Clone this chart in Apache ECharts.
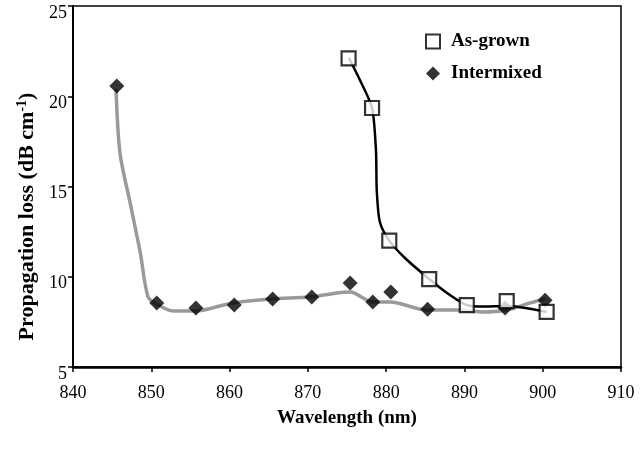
<!DOCTYPE html>
<html><head><meta charset="utf-8">
<script src="https://cdn.jsdelivr.net/npm/echarts@6/dist/echarts.min.js"></script>
<style>html,body{margin:0;padding:0;background:#fff}#c{width:642px;height:451px}</style>
</head><body><div id="c"></div>
<script>
// As-grown measured points
const asGrownX = [875.2, 878.2, 880.4, 885.5, 890.3, 895.4, 900.5];
const asGrownY = [22.1, 19.35, 12.0, 9.87, 8.43, 8.65, 8.05];
// As-grown drawn curve
const agFitX = [875.25, 876.65, 878.2, 878.7, 878.8, 879.2, 880.4, 882.4, 885.5, 888.1, 890.3, 892.5, 895.4, 900.5];
const agFitY = [22.12, 20.9, 19.35, 17.0, 14.8, 13.03, 12.0, 11.04, 9.88, 9.0, 8.43, 8.35, 8.38, 8.05];
// Intermixed measured points
const interX = [845.6, 850.7, 855.7, 860.6, 865.5, 870.5, 875.4, 878.3, 880.6, 885.3, 895.2, 900.3];
const interY = [20.57, 8.55, 8.27, 8.43, 8.77, 8.88, 9.65, 8.6, 9.15, 8.2, 8.27, 8.7];
// Intermixed fitted curve
const fitX = [845.5, 846.0, 847.3, 848.6, 849.6, 850.9, 852.8, 855.6, 860.4, 865.4, 870.3, 873.7, 875.4, 878.3, 880.5, 885.2, 889.4, 892.4, 895.4, 898.4, 900.3];
const fitY = [20.4, 16.86, 14.09, 11.32, 8.88, 8.43, 8.1, 8.1, 8.55, 8.77, 8.88, 9.1, 9.16, 8.6, 8.6, 8.16, 8.16, 8.05, 8.16, 8.55, 8.77];
const xTicks = [840, 850, 860, 870, 880, 890, 900, 910];
const yTicks = [5, 10, 15, 20, 25];

const zip = (a, b) => a.map((v, i) => [v, b[i]]);
const font = 'Liberation Serif';
const chart = echarts.init(document.getElementById('c'), null, {renderer: 'canvas'});
chart.setOption({
  animation: false,
  backgroundColor: '#fff',
  grid: {left: 73, right: 21, top: 6, bottom: 84, show: true, borderColor: '#000', borderWidth: 1.5,
         containLabel: false, outerBoundsMode: 'none'},
  legend: {
    orient: 'vertical', left: 420, top: 27, itemGap: 13, itemWidth: 14, itemHeight: 14,
    data: [
      {name: 'As-grown', icon: 'rect'},
      {name: 'Intermixed', icon: 'path://M0,-1L1,0L0,1L-1,0Z'}
    ],
    textStyle: {fontFamily: font, fontWeight: 'bold', fontSize: 19, color: '#000', padding: [0, 0, 0, 6]}
  },
  xAxis: {
    type: 'value', min: xTicks[0], max: xTicks[xTicks.length - 1], interval: 10,
    splitLine: {show: false},
    axisLine: {lineStyle: {color: '#000', width: 2.5}},
    axisTick: {show: true, length: 5, lineStyle: {color: '#000', width: 1.5}},
    axisLabel: {fontFamily: font, fontSize: 18, color: '#000', margin: 17},
    name: 'Wavelength (nm)', nameLocation: 'middle', nameGap: 42,
    nameTextStyle: {fontFamily: font, fontWeight: 'bold', fontSize: 19, color: '#000'}
  },
  yAxis: {
    type: 'value', min: yTicks[0], max: yTicks[yTicks.length - 1], interval: 5,
    splitLine: {show: false},
    axisLine: {show: true, lineStyle: {color: '#000', width: 2}},
    axisTick: {show: true, length: 5, lineStyle: {color: '#000', width: 1.5}},
    axisLabel: {fontFamily: font, fontSize: 18, color: '#000', margin: 6, verticalAlign: 'top', padding: [-2, 0, 0, 0]},
    name: '{b|Propagation loss (dB cm}{s|-1}{b|)}', nameLocation: 'middle', nameGap: 34,
    nameTextStyle: {
      padding: [0, 60, 0, 0],
      rich: {
        b: {fontFamily: font, fontWeight: 'bold', fontSize: 22, color: '#000'},
        s: {fontFamily: font, fontWeight: 'bold', fontSize: 14, color: '#000', verticalAlign: 'top', padding: [0, 0, 10, 0]}
      }
    }
  },
  series: [
    {
      name: 'Intermixed fit', type: 'line', data: zip(fitX, fitY), smooth: 0.3,
      symbol: 'none', lineStyle: {color: '#9a9a9a', width: 3.5}, z: 2, silent: true
    },
    {
      name: 'Intermixed', type: 'scatter', data: zip(interX, interY),
      symbol: 'path://M0,-1L1,0L0,1L-1,0Z', symbolSize: 15,
      itemStyle: {color: '#000'}, z: 3
    },
    {
      name: 'As-grown fit', type: 'line', data: zip(agFitX, agFitY), smooth: 0.25,
      symbol: 'none', lineStyle: {color: '#000', width: 2.5}, z: 4, silent: true
    },
    {
      name: 'As-grown', type: 'scatter', data: zip(asGrownX, asGrownY),
      symbol: 'rect', symbolSize: 14,
      itemStyle: {color: '#fff', borderColor: '#000', borderWidth: 2.2}, z: 5
    }
  ]
});
</script></body></html>
